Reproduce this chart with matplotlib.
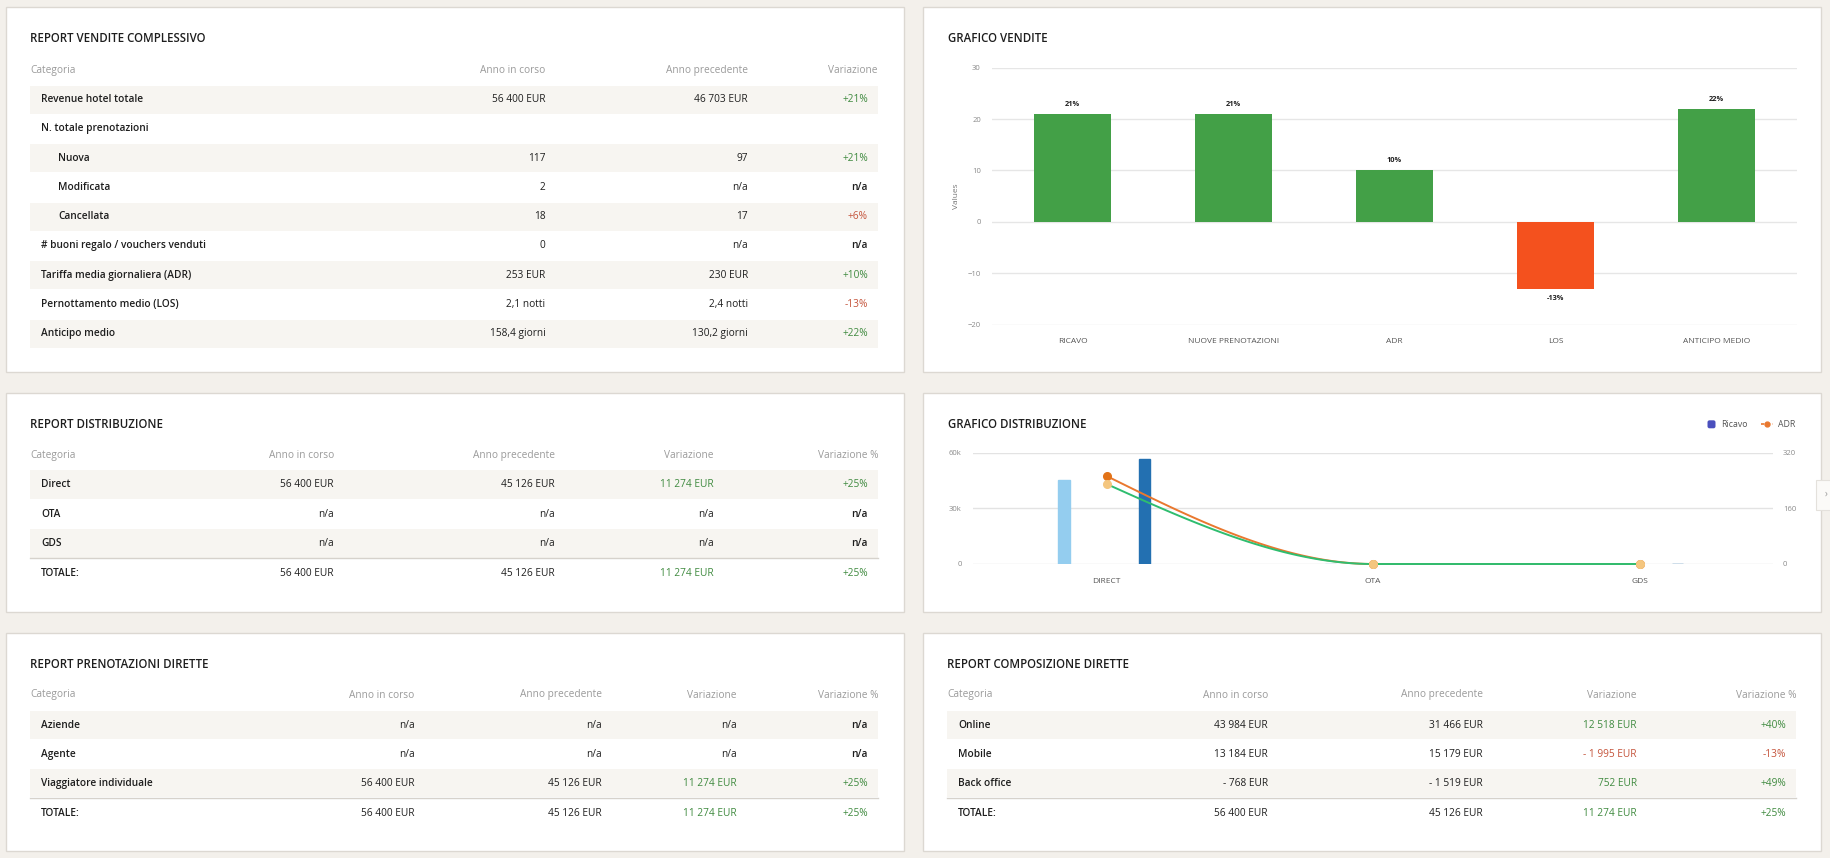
import numpy as np
import matplotlib.pyplot as plt
from matplotlib.patches import Rectangle, FancyBboxPatch

plt.rcParams['font.family'] = ['Open Sans', 'DejaVu Sans']

# --- dati tabelle ---
t1_cat = ["Revenue hotel totale", "N. totale prenotazioni", "Nuova", "Modificata", "Cancellata",
          "# buoni regalo / vouchers venduti", "Tariffa media giornaliera (ADR)",
          "Pernottamento medio (LOS)", "Anticipo medio"]
t1_indent = [0, 0, 1, 1, 1, 0, 0, 0, 0]
t1_cur = ["56 400 EUR", "", "117", "2", "18", "0", "253 EUR", "2,1 notti", "158,4 giorni"]
t1_prev = ["46 703 EUR", "", "97", "n/a", "17", "n/a", "230 EUR", "2,4 notti", "130,2 giorni"]
t1_var = ["+21%", "", "+21%", "n/a", "+6%", "n/a", "+10%", "-13%", "+22%"]
t1_good = [1, 0, 1, 0, -1, 0, 1, -1, 1]   # 1 = buono (verde), -1 = male (rosso)

t2_cat = ["Direct", "OTA", "GDS", "TOTALE:"]
t2_cur = ["56 400 EUR", "n/a", "n/a", "56 400 EUR"]
t2_prev = ["45 126 EUR", "n/a", "n/a", "45 126 EUR"]
t2_diff = ["11 274 EUR", "n/a", "n/a", "11 274 EUR"]
t2_pct = ["+25%", "n/a", "n/a", "+25%"]

t3_cat = ["Aziende", "Agente", "Viaggiatore individuale", "TOTALE:"]
t3_cur = ["n/a", "n/a", "56 400 EUR", "56 400 EUR"]
t3_prev = ["n/a", "n/a", "45 126 EUR", "45 126 EUR"]
t3_diff = ["n/a", "n/a", "11 274 EUR", "11 274 EUR"]
t3_pct = ["n/a", "n/a", "+25%", "+25%"]

t4_cat = ["Online", "Mobile", "Back office", "TOTALE:"]
t4_cur = ["43 984 EUR", "13 184 EUR", "- 768 EUR", "56 400 EUR"]
t4_prev = ["31 466 EUR", "15 179 EUR", "- 1 519 EUR", "45 126 EUR"]
t4_diff = ["12 518 EUR", "- 1 995 EUR", "752 EUR", "11 274 EUR"]
t4_pct = ["+40%", "-13%", "+49%", "+25%"]

# --- dati grafici ---
sales_cats = ["RICAVO", "NUOVE PRENOTAZIONI", "ADR", "LOS", "ANTICIPO MEDIO"]
sales_vals = [21, 21, 10, -13, 22]

dist_cats = ["DIRECT", "OTA", "GDS"]
rev_prev = [45126, 0, 0]
rev_cur = [56400, 0, 0]
adr_cur = [253, 0, 0]
adr_prev = [230, 0, 0]

BG = '#f3f0eb'
BAND = '#f7f5f1'
TXT = '#1e1e1e'
HEAD = '#9a9a9a'
GREEN = '#3f8a3f'
RED = '#c4533a'

W, H = 1830, 858
fig = plt.figure(figsize=(W / 100, H / 100), dpi=100)
fig.patch.set_facecolor(BG)
bg = fig.add_axes([0, 0, 1, 1])
bg.set_xlim(0, W)
bg.set_ylim(H, 0)
bg.axis('off')


def ax_at(x0, y0, x1, y1):
    return fig.add_axes([x0 / W, 1 - y1 / H, (x1 - x0) / W, (y1 - y0) / H])


def tone(s, good=None):
    if good is not None:
        return GREEN if good > 0 else (RED if good < 0 else TXT)
    if s == "n/a" or s == "":
        return TXT
    return RED if s.startswith("-") else GREEN


# pannelli
for (x0, y0, x1, y1) in [(6, 7, 904, 372), (923, 7, 1821, 372),
                         (6, 392.5, 904, 611.5), (923, 392.5, 1821, 611.5),
                         (6, 632.5, 904, 851), (923, 632.5, 1821, 851)]:
    bg.add_patch(Rectangle((x0, y0), x1 - x0, y1 - y0, facecolor='white',
                           edgecolor='#dcd8d2', lw=1))

FS = 7.3
TFS = 8.3


def table(px, title, y_title, y_head, ys, headers, head_r, cols, shaded,
          sep=None, indent=None, colors=None, val_pad=10):
    x_left = px + 24
    band_r = head_r[-1]
    bg.text(x_left, y_title, title, fontsize=TFS, fontweight='semibold', color=TXT, va='center')
    bg.text(x_left, y_head, headers[0], fontsize=FS, color=HEAD, va='center')
    for h, xr in zip(headers[1:], head_r):
        bg.text(xr, y_head, h, fontsize=FS, color=HEAD, va='center', ha='right')
    step = ys[1] - ys[0]
    for i, y in enumerate(ys):
        if i in shaded:
            bg.add_patch(Rectangle((x_left, y - step / 2 + 0.5), band_r - x_left, step - 1,
                                   facecolor=BAND, edgecolor='none'))
    if sep is not None:
        bg.plot([x_left, band_r], [sep, sep], color='#d6d2cc', lw=1)
    last = len(cols) - 2
    for i, y in enumerate(ys):
        ind = indent[i] if indent else 0
        bg.text(x_left + 11 + 17 * ind, y, cols[0][i], fontsize=FS, fontweight='semibold',
                color=TXT, va='center')
        for j, col in enumerate(cols[1:]):
            xr = head_r[j] - (val_pad if j == last else 0)
            c = colors[j][i] if colors else TXT
            wt = 'semibold' if (j == last and col[i] == "n/a") else 'normal'
            bg.text(xr, y, col[i], fontsize=FS, color=c, fontweight=wt, va='center', ha='right')


# tabella 1
ys1 = [99.7 + 29.25 * i for i in range(len(t1_cat))]
table(6, "REPORT VENDITE COMPLESSIVO", 39, 70.7, ys1,
      ["Categoria", "Anno in corso", "Anno precedente", "Variazione"],
      [545.6, 748, 878], [t1_cat, t1_cur, t1_prev, t1_var], [0, 2, 4, 6, 8],
      indent=t1_indent,
      colors=[[TXT] * 9, [TXT] * 9, [tone(v, g) for v, g in zip(t1_var, t1_good)]])

hdr5 = ["Categoria", "Anno in corso", "Anno precedente", "Variazione", "Variazione %"]

ys2 = [484.7, 514.3, 543.6, 573.3]
table(6, "REPORT DISTRIBUZIONE", 424.3, 455.7, ys2, hdr5,
      [333.8, 555, 713.6, 878], [t2_cat, t2_cur, t2_prev, t2_diff, t2_pct], [0, 2],
      sep=557.7,
      colors=[[TXT] * 4, [TXT] * 4, [tone(v) for v in t2_diff], [tone(v) for v in t2_pct]])

ys3 = [725.3, 754.3, 783.3, 813]
table(6, "REPORT PRENOTAZIONI DIRETTE", 664.7, 695, ys3, hdr5,
      [414.3, 602, 736.4, 878], [t3_cat, t3_cur, t3_prev, t3_diff, t3_pct], [0, 2],
      sep=797.7,
      colors=[[TXT] * 4, [TXT] * 4, [tone(v) for v in t3_diff], [tone(v) for v in t3_pct]])

table(923, "REPORT COMPOSIZIONE DIRETTE", 664.7, 695, ys3, hdr5,
      [1268, 1482.7, 1636.8, 1796], [t4_cat, t4_cur, t4_prev, t4_diff, t4_pct], [0, 2],
      sep=797.7,
      colors=[[TXT] * 4, [TXT] * 4, [tone(v) for v in t4_diff], [tone(v) for v in t4_pct]])

# --- grafico vendite ---
bg.text(948, 39, "GRAFICO VENDITE", fontsize=TFS, fontweight='semibold', color=TXT, va='center')
ax1 = ax_at(992, 67.7, 1797, 324.7)
ax1.set_facecolor('none')
x = np.arange(len(sales_cats))
bar_cols = ['#43a047' if v >= 0 else '#f4511e' for v in sales_vals]
bars = ax1.bar(x, sales_vals, width=0.48, color=bar_cols, zorder=3)
ax1.bar_label(bars, labels=[f"{v}%" for v in sales_vals], padding=4.5, fontsize=5.3,
              fontweight='bold', color=TXT)
ax1.set_xlim(-0.5, len(sales_cats) - 0.5)
ax1.set_ylim(-20, 30)
ax1.set_yticks([-20, -10, 0, 10, 20, 30])
ax1.set_xticks(x, sales_cats)
ax1.grid(axis='y', color='#e6e6e6', lw=1)
ax1.set_axisbelow(True)
for s in ax1.spines.values():
    s.set_visible(False)
ax1.tick_params(axis='x', length=0, pad=9.5, labelsize=6, labelcolor='#555555')
ax1.tick_params(axis='y', length=0, pad=8, labelsize=5.5, labelcolor='#8a8a8a')
bg.text(956, 196, "Values", rotation=90, fontsize=6, color='#777777', ha='center', va='center')

# --- grafico distribuzione ---
bg.text(948, 424.3, "GRAFICO DISTRIBUZIONE", fontsize=TFS, fontweight='semibold', color=TXT,
        va='center')
ax2 = ax_at(973.4, 452.7, 1772.8, 564)
ax2.set_facecolor('none')
x2 = np.arange(len(dist_cats))
ax2.bar(x2 - 0.16, rev_prev, width=0.044, color='#94cdef', edgecolor='#94cdef', lw=1, zorder=3)
ax2.bar(x2 + 0.142, rev_cur, width=0.044, color='#2370b1', edgecolor='#2370b1', lw=1, zorder=3)
ax2.set_xlim(-0.5, len(dist_cats) - 0.5)
ax2.set_ylim(0, 60000)
ax2.set_yticks([0, 30000, 60000], ["0", "30k", "60k"])
ax2.set_xticks(x2, dist_cats)
ax2.grid(axis='y', color='#e3e3e3', lw=1)
ax2.set_axisbelow(True)
for s in ax2.spines.values():
    s.set_visible(False)
ax2.tick_params(axis='x', length=0, pad=10, labelsize=6, labelcolor='#555555')
ax2.tick_params(axis='y', length=0, pad=8.4, labelsize=5.5, labelcolor='#8a8a8a')

ax3 = ax2.twinx()
ax3.set_ylim(0, 320)
ax3.set_yticks([0, 160, 320])
for s in ax3.spines.values():
    s.set_visible(False)
ax3.tick_params(axis='y', length=0, pad=7.2, labelsize=5.5, labelcolor='#8a8a8a')


def monotone(xs, ys, n=60):
    # curva monotona tipo d3.curveMonotoneX
    xs = np.asarray(xs, float)
    ys = np.asarray(ys, float)
    h = np.diff(xs)
    s = np.diff(ys) / h
    t = np.zeros(len(xs))
    for i in range(1, len(xs) - 1):
        p = (s[i - 1] * h[i] + s[i] * h[i - 1]) / (h[i - 1] + h[i])
        t[i] = (np.sign(s[i - 1]) + np.sign(s[i])) * min(abs(s[i - 1]), abs(s[i]), 0.5 * abs(p))
    t[0] = (3 * s[0] - t[1]) / 2
    t[-1] = (3 * s[-1] - t[-2]) / 2
    px, py = [], []
    for i in range(len(xs) - 1):
        u = np.linspace(0, 1, n)
        h00 = 2 * u**3 - 3 * u**2 + 1
        h10 = u**3 - 2 * u**2 + u
        h01 = -2 * u**3 + 3 * u**2
        h11 = u**3 - u**2
        px.append(xs[i] + u * h[i])
        py.append(h00 * ys[i] + h10 * h[i] * t[i] + h01 * ys[i + 1] + h11 * h[i] * t[i + 1])
    return np.concatenate(px), np.concatenate(py)


cx, cy = monotone(x2, adr_cur)
ax3.plot(cx, cy, color='#e9782f', lw=1.4, zorder=4, clip_on=False)
px_, py_ = monotone(x2, adr_prev)
ax3.plot(px_, py_, color='#2fbd6f', lw=1.4, zorder=4, clip_on=False)
ax3.plot(x2, adr_cur, 'o', color='#e27318', ms=5.5, zorder=5, clip_on=False)
ax3.plot(x2, adr_prev, 'o', color='#f4c67f', ms=5.5, zorder=6, clip_on=False)

# legenda
bg.add_patch(FancyBboxPatch((1707.5, 420.3), 8, 8, boxstyle='round,pad=0,rounding_size=2',
                            facecolor='#4a4fbd', edgecolor='none'))
bg.text(1721.5, 424.3, "Ricavo", fontsize=6.3, color='#555555', va='center')
bg.plot([1760.5, 1773], [424.3, 424.3], color='#e9782f', lw=1.2, ls=(0, (2, 1.5)))
bg.plot([1766.7], [424.3], 'o', color='#e9782f', ms=3.5)
bg.text(1777.7, 424.3, "ADR", fontsize=6.3, color='#555555', va='center')

# linguetta laterale
bg.add_patch(Rectangle((1816, 480), 16, 30, facecolor='#fbfaf8', edgecolor='#e4e1dc', lw=0.8))
bg.text(1826, 494, "\u203a", fontsize=7, color='#999999', ha='center', va='center')

fig.savefig("out.png", dpi=100, facecolor=BG)
